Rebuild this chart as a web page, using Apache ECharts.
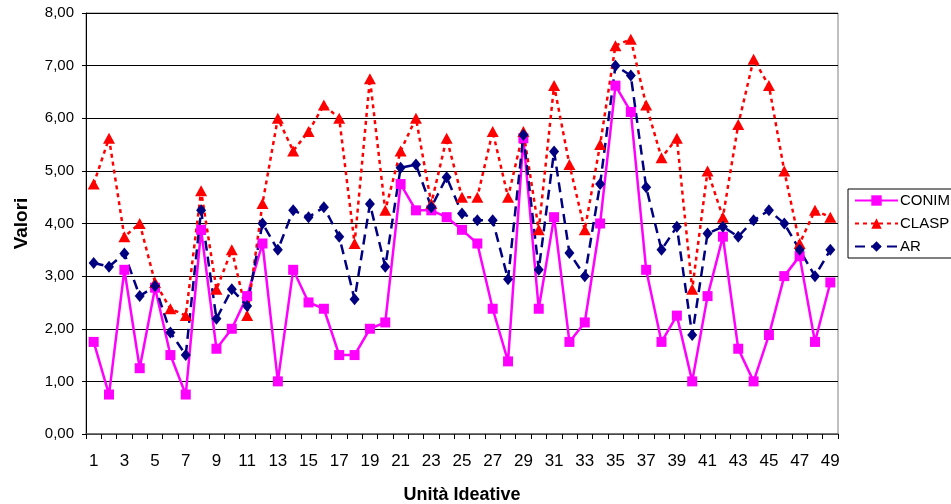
<!DOCTYPE html>
<html>
<head>
<meta charset="utf-8">
<script src="https://cdn.jsdelivr.net/npm/echarts@6/dist/echarts.min.js"></script>
<style>
  html, body { margin: 0; padding: 0; background: #fff; }
  #chart { width: 951px; height: 504px; }
</style>
</head>
<body>
<div id="chart"></div>
<script>
// Category labels along the x axis (idea units 1..49)
const categories = ['1','2','3','4','5','6','7','8','9','10','11','12','13','14','15','16','17','18','19','20',
  '21','22','23','24','25','26','27','28','29','30','31','32','33','34','35','36','37','38','39','40',
  '41','42','43','44','45','46','47','48','49'];

// Y axis tick values
const yTicks = [0, 1, 2, 3, 4, 5, 6, 7, 8];

const seriesNames = ['CONIM', 'CLASP', 'AR'];

const conim = [1.75, 0.75, 3.12, 1.25, 2.78, 1.50, 0.75, 3.88, 1.62, 2.00,
  2.62, 3.62, 1.00, 3.12, 2.50, 2.38, 1.50, 1.50, 2.00, 2.12,
  4.75, 4.25, 4.25, 4.12, 3.88, 3.62, 2.38, 1.38, 5.62, 2.38,
  4.12, 1.75, 2.12, 4.00, 6.62, 6.12, 3.12, 1.75, 2.25, 1.00,
  2.62, 3.75, 1.62, 1.00, 1.88, 3.00, 3.38, 1.75, 2.88];

const clasp = [4.75, 5.62, 3.75, 4.00, 2.88, 2.38, 2.25, 4.62, 2.75, 3.50,
  2.25, 4.38, 6.00, 5.38, 5.75, 6.25, 6.00, 3.62, 6.75, 4.25,
  5.38, 6.00, 4.38, 5.62, 4.50, 4.50, 5.75, 4.50, 5.75, 3.88,
  6.62, 5.12, 3.88, 5.50, 7.38, 7.50, 6.25, 5.25, 5.62, 2.75,
  5.00, 4.12, 5.88, 7.12, 6.62, 5.00, 3.62, 4.25, 4.12];

const ar = [3.25, 3.18, 3.43, 2.62, 2.81, 1.93, 1.50, 4.25, 2.19, 2.75,
  2.43, 4.00, 3.50, 4.25, 4.12, 4.31, 3.75, 2.56, 4.37, 3.18,
  5.06, 5.12, 4.31, 4.88, 4.19, 4.06, 4.06, 2.94, 5.68, 3.12,
  5.37, 3.44, 3.00, 4.75, 7.00, 6.81, 4.69, 3.50, 3.94, 1.88,
  3.81, 3.94, 3.75, 4.06, 4.25, 4.00, 3.50, 3.00, 3.50];

const FONT = '"Liberation Sans", Arial, sans-serif';

const chart = echarts.init(document.getElementById('chart'), null, { renderer: 'canvas' });

chart.setOption({
  animation: false,
  backgroundColor: '#ffffff',
  textStyle: { fontFamily: FONT, color: '#000' },
  grid: {
    left: 86, right: 113, top: 13, bottom: 70,
    containLabel: false,
    outerBoundsMode: 'none',
    show: true, borderColor: '#808080', borderWidth: 1, backgroundColor: 'transparent'
  },
  legend: {
    orient: 'vertical',
    left: 848, top: 189,
    padding: [4, 60, 4, 6],
    itemGap: 8,
    itemWidth: 43,
    itemHeight: 13,
    borderColor: '#000', borderWidth: 1,
    backgroundColor: '#fff',
    textStyle: { fontFamily: FONT, fontSize: 15, color: '#000', padding: [0, 0, 0, -3] },
    data: seriesNames
  },
  xAxis: {
    type: 'category',
    data: categories,
    boundaryGap: true,
    name: 'Unità Ideative',
    nameLocation: 'middle',
    nameGap: 52,
    nameTextStyle: { fontFamily: FONT, fontSize: 18, fontWeight: 'bold', color: '#000' },
    axisLine: { show: true, lineStyle: { color: '#606060', width: 1.5 } },
    axisTick: { show: true, interval: 0, length: 5, lineStyle: { color: '#000' } },
    axisLabel: { interval: 1, margin: 19, fontSize: 17, color: '#000', fontFamily: FONT },
    splitLine: { show: false }
  },
  yAxis: {
    type: 'value',
    min: yTicks[0],
    max: yTicks[yTicks.length - 1],
    interval: 1,
    name: 'Valori',
    nameLocation: 'middle',
    nameGap: 55,
    nameRotate: 90,
    nameTextStyle: { fontFamily: FONT, fontSize: 19, fontWeight: 'bold', color: '#000' },
    axisLine: { show: true, lineStyle: { color: '#000', width: 1 } },
    axisTick: { show: true, length: 4, inside: false, lineStyle: { color: '#000' } },
    axisLabel: {
      margin: 12, fontSize: 15, color: '#000', fontFamily: FONT,
      formatter: v => v.toFixed(2).replace('.', ',')
    },
    splitLine: { show: true, lineStyle: { color: '#000', width: 1 } }
  },
  series: [
    {
      name: seriesNames[0],
      type: 'line',
      data: conim,
      symbol: 'rect',
      symbolSize: 10,
      showAllSymbol: true,
      itemStyle: { color: '#FF00FF' },
      lineStyle: { color: '#FF00FF', width: 2.5, type: 'solid' }
    },
    {
      name: seriesNames[1],
      type: 'line',
      data: clasp,
      symbol: 'triangle',
      symbolSize: [12, 11],
      showAllSymbol: true,
      itemStyle: { color: '#FF0000' },
      lineStyle: { color: '#FF0000', width: 2.5, type: [4, 4] }
    },
    {
      name: seriesNames[2],
      type: 'line',
      data: ar,
      symbol: 'diamond',
      symbolSize: [10, 12],
      showAllSymbol: true,
      itemStyle: { color: '#000080' },
      lineStyle: { color: '#000080', width: 2.5, type: [10, 6] }
    }
  ]
});
</script>
</body>
</html>
